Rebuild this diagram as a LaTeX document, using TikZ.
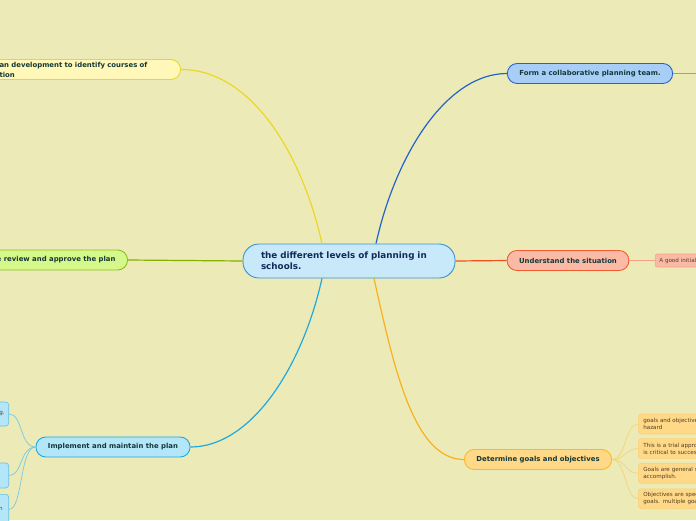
\documentclass[tikz,border=0pt]{standalone}
\usepackage{fontspec}
\setmainfont{DejaVu Sans}
\usetikzlibrary{positioning, calc}
\definecolor{paper}{RGB}{236,235,183}
\definecolor{centerFill}{RGB}{199,233,250}
\definecolor{centerDraw}{RGB}{58,146,206}
\definecolor{centerText}{RGB}{22,40,90}
\definecolor{mainText}{RGB}{20,56,56}
\definecolor{leafText}{RGB}{80,62,34}
\definecolor{yelFill}{RGB}{255,248,184}
\definecolor{yelDraw}{RGB}{236,214,40}
\definecolor{grnFill}{RGB}{214,248,138}
\definecolor{grnDraw}{RGB}{140,190,30}
\definecolor{grnLine}{RGB}{132,176,0}
\definecolor{cyaFill}{RGB}{180,230,250}
\definecolor{cyaDraw}{RGB}{30,168,224}
\definecolor{cyaTwig}{RGB}{120,200,230}
\definecolor{bluFill}{RGB}{168,206,248}
\definecolor{bluDraw}{RGB}{36,100,200}
\definecolor{bluTwig}{RGB}{110,170,230}
\definecolor{redFill}{RGB}{250,186,166}
\definecolor{redDraw}{RGB}{240,92,48}
\definecolor{redLine}{RGB}{240,80,30}
\definecolor{redTwig}{RGB}{244,160,130}
\definecolor{orgFill}{RGB}{255,216,136}
\definecolor{orgDraw}{RGB}{250,186,40}
\definecolor{orgLine}{RGB}{250,176,30}
\definecolor{orgTwig}{RGB}{248,210,120}
\tikzset{
    topic/.style={rectangle, rounded corners=16pt, draw=centerDraw, fill=centerFill, line width=0.9pt, font=\bfseries\fontsize{8.8}{11}\selectfont, text=centerText, align=left, inner xsep=18pt, inner ysep=0pt, minimum height=34pt, text width=176pt},
    branch/.style={rectangle, rounded corners=9.8pt, line width=0.9pt, font=\bfseries\fontsize{6.9}{10}\selectfont, text=mainText, minimum height=20pt, inner xsep=12pt, inner ysep=0pt, align=left},
    leaf/.style={rectangle, rounded corners=3pt, line width=0.6pt, font=\fontsize{5.6}{7}\selectfont, text=leafText, minimum height=20pt, inner xsep=5pt, inner ysep=0pt, align=left, text width=90pt},
    link/.style={line width=1.2pt},
    twig/.style={line width=0.7pt}
}

\begin{document}
\begin{tikzpicture}[x=1pt, y=-1pt]
    \useasboundingbox (0,0) rectangle (696,520);
    \clip (0,0) rectangle (696,520);
    \fill[paper] (0,0) rectangle (696,520);

    % centre and main branches
    \node (center) [topic] at (349,261) {the different levels of planning in\\schools.};
    \node (plan) [branch, draw=yelDraw, fill=yelFill, anchor=east, text width=169pt] at (181,69.5) {an development to identify courses of\\tion};
    \node (review) [branch, draw=grnDraw, fill=grnFill, anchor=east] at (128,260) {e review and approve the plan};
    \node (impl) [branch, draw=cyaDraw, fill=cyaFill, minimum width=154pt] at (113,447) {Implement and maintain the plan};
    \node (team) [branch, draw=bluDraw, fill=bluFill, minimum width=164pt] at (590,73.5) {Form a collaborative planning team.};
    \node (situ) [branch, draw=redDraw, fill=redFill, minimum width=120pt] at (568,260.5) {Understand the situation};
    \node (goals) [branch, draw=orgDraw, fill=orgFill, minimum width=146pt] at (538,459.5) {Determine goals and objectives};

    % leaves
    \node (s1) [leaf, draw=cyaDraw!70, fill=cyaFill, anchor=east, minimum height=24pt, text width=20pt, align=right, inner xsep=4pt] at (9,414) {g.};
    \node (s2) [leaf, draw=cyaDraw!70, fill=cyaFill, anchor=east, minimum height=25pt, text width=20pt, inner xsep=4pt] at (9,475.5) {};
    \node (s3) [leaf, draw=cyaDraw!70, fill=cyaFill, anchor=north east, minimum height=30pt, text width=20pt, align=right, inner xsep=6pt] at (9,494) {n};
    \node (init) [leaf, draw=redTwig, fill=redFill, anchor=west, minimum height=13pt, rounded corners=2pt, text width=60pt, inner xsep=4pt] at (655,260.5) {A good initial};
    \node (g1) [leaf, draw=orgTwig, fill=orgFill, anchor=west] at (638,424) {goals and objectives\\hazard};
    \node (g2) [leaf, draw=orgTwig, fill=orgFill, below=4pt of g1] {This is a trial approach\\is critical to success};
    \node (g3) [leaf, draw=orgTwig, fill=orgFill, below=4pt of g2] {Goals are general statements\\accomplish.};
    \node (g4) [leaf, draw=orgTwig, fill=orgFill, below=5pt of g3] {Objectives are specific\\goals. multiple goals};
    \coordinate (teamEnd) at (700,73.5);

    % connectors
    \draw[link, yelDraw] (plan.east) .. controls +(70,0) and +(-20,-90) .. ([xshift=-27pt]center.north);
    \draw[link, grnLine] (review.east) -- (center.west);
    \draw[link, cyaDraw] ([xshift=-27pt]center.south) .. controls +(-20,90) and +(60,0) .. (impl.east);
    \draw[link, bluDraw] ([xshift=27pt]center.north) .. controls +(20,-90) and +(-60,0) .. (team.west);
    \draw[link, redLine] (center.east) -- (situ.west);
    \draw[link, orgLine] ([xshift=25pt]center.south) .. controls +(20,90) and +(-50,0) .. (goals.west);

    \draw[twig, bluTwig] (team.east) -- (teamEnd);
    \draw[twig, redTwig] (situ.east) -- (init.west);
    \foreach \s in {s1, s2, s3}
        \draw[twig, cyaTwig] (impl.west) .. controls +(-16,0) and +(14,0) .. (\s.east);
    \foreach \g in {g1, g2, g3, g4}
        \draw[twig, orgTwig] (goals.east) .. controls +(14,0) and +(-13,0) .. (\g.west);
\end{tikzpicture}
\end{document}
